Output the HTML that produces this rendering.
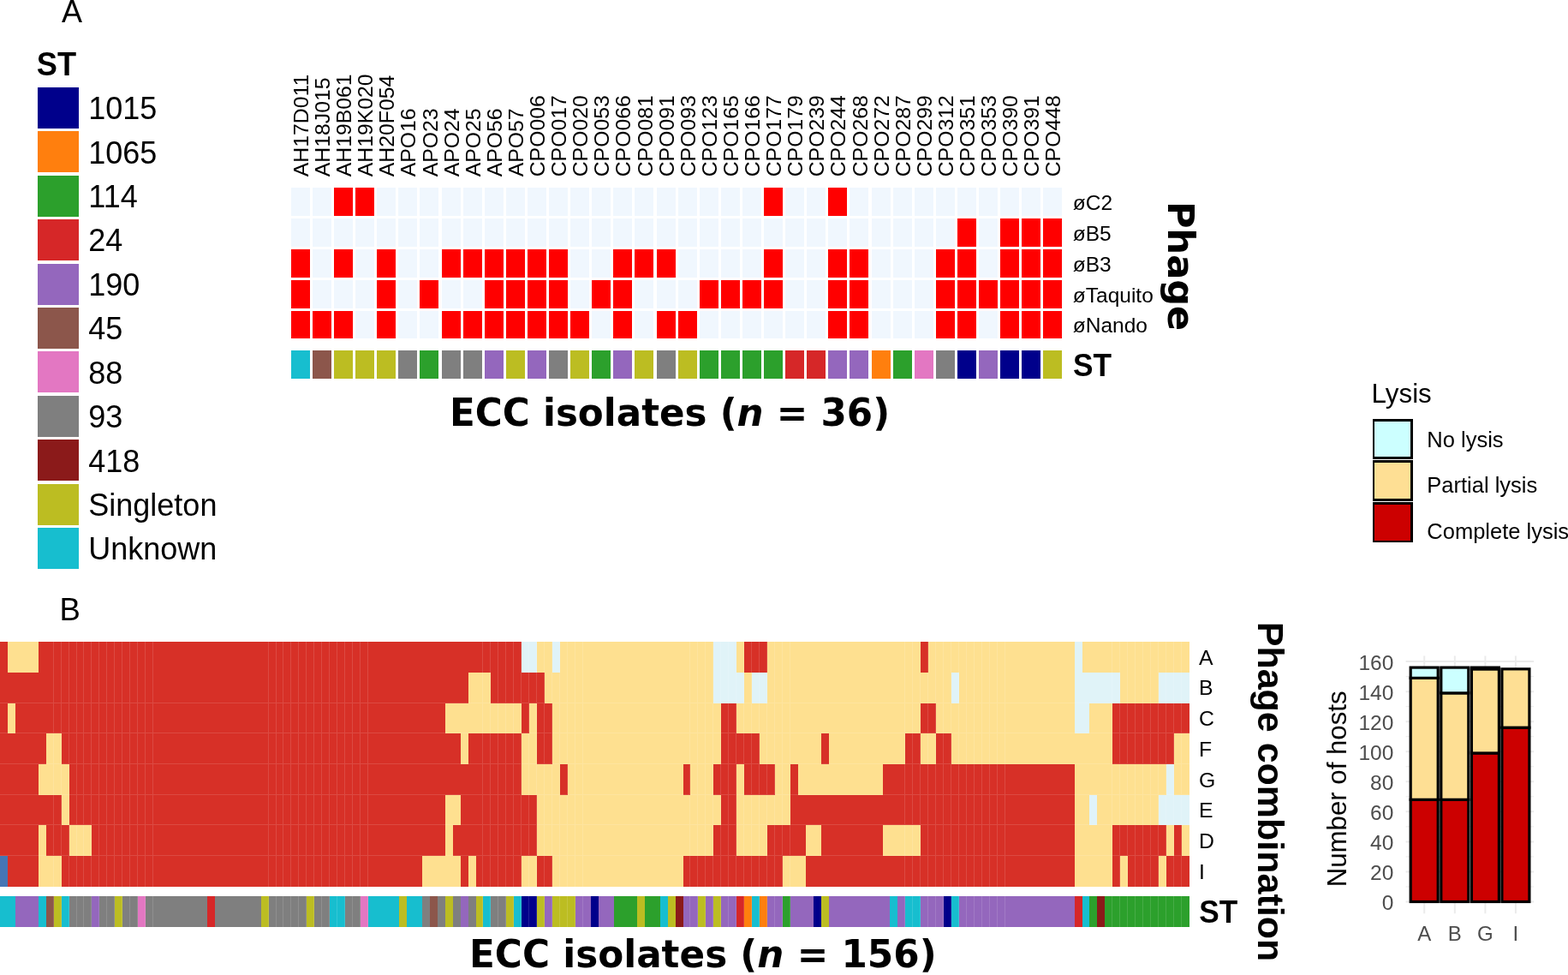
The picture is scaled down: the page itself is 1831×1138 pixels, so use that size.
<!DOCTYPE html>
<html><head><meta charset="utf-8"><title>Phage host range</title>
<style>
html,body{margin:0;padding:0;background:#fff;}
body{width:1831px;height:1138px;overflow:hidden;}
svg{display:block;}
.s{font-family:"Liberation Sans",Arial,Helvetica,sans-serif;}
.v{font-family:"DejaVu Sans",Verdana,sans-serif;font-weight:bold;}
</style></head><body>
<svg width="1831" height="1138" viewBox="0 0 1831 1138" shape-rendering="crispEdges">
<rect width="1831" height="1138" fill="#fff"/>
<text class="s" x="72" y="25.9" font-size="36">A</text>
<text class="s" x="69.5" y="723.6" font-size="36.5">B</text>
<text class="s" font-size="39.4" font-weight="bold" transform="translate(42.8,88) scale(0.92,1)">ST</text>
<rect x="43.70" y="101.80" width="48.40" height="48.10" fill="#00008B"/>
<text class="s" x="103.3" y="139.15" font-size="36">1015</text>
<rect x="43.70" y="153.23" width="48.40" height="48.10" fill="#FF7F0E"/>
<text class="s" x="103.3" y="190.58" font-size="36">1065</text>
<rect x="43.70" y="204.66" width="48.40" height="48.10" fill="#2CA02C"/>
<text class="s" x="103.3" y="242.01" font-size="36">114</text>
<rect x="43.70" y="256.09" width="48.40" height="48.10" fill="#D62728"/>
<text class="s" x="103.3" y="293.44" font-size="36">24</text>
<rect x="43.70" y="307.52" width="48.40" height="48.10" fill="#9467BD"/>
<text class="s" x="103.3" y="344.87" font-size="36">190</text>
<rect x="43.70" y="358.95" width="48.40" height="48.10" fill="#8C564B"/>
<text class="s" x="103.3" y="396.30" font-size="36">45</text>
<rect x="43.70" y="410.38" width="48.40" height="48.10" fill="#E377C2"/>
<text class="s" x="103.3" y="447.73" font-size="36">88</text>
<rect x="43.70" y="461.81" width="48.40" height="48.10" fill="#7F7F7F"/>
<text class="s" x="103.3" y="499.16" font-size="36">93</text>
<rect x="43.70" y="513.24" width="48.40" height="48.10" fill="#8B1A1A"/>
<text class="s" x="103.3" y="550.59" font-size="36">418</text>
<rect x="43.70" y="564.67" width="48.40" height="48.10" fill="#BCBD22"/>
<text class="s" x="103.3" y="602.02" font-size="36">Singleton</text>
<rect x="43.70" y="616.10" width="48.40" height="48.10" fill="#17BECF"/>
<text class="s" x="103.3" y="653.45" font-size="36">Unknown</text>
<g>
<rect x="339.80" y="219.10" width="22.00" height="32.50" fill="#F0F7FE"/><rect x="364.90" y="219.10" width="22.00" height="32.50" fill="#F0F7FE"/><rect x="390.00" y="219.10" width="22.00" height="32.50" fill="#FF0000"/><rect x="415.10" y="219.10" width="22.00" height="32.50" fill="#FF0000"/><rect x="440.20" y="219.10" width="22.00" height="32.50" fill="#F0F7FE"/><rect x="465.30" y="219.10" width="22.00" height="32.50" fill="#F0F7FE"/><rect x="490.40" y="219.10" width="22.00" height="32.50" fill="#F0F7FE"/><rect x="515.50" y="219.10" width="22.00" height="32.50" fill="#F0F7FE"/><rect x="540.60" y="219.10" width="22.00" height="32.50" fill="#F0F7FE"/><rect x="565.70" y="219.10" width="22.00" height="32.50" fill="#F0F7FE"/><rect x="590.80" y="219.10" width="22.00" height="32.50" fill="#F0F7FE"/><rect x="615.90" y="219.10" width="22.00" height="32.50" fill="#F0F7FE"/><rect x="641.00" y="219.10" width="22.00" height="32.50" fill="#F0F7FE"/><rect x="666.10" y="219.10" width="22.00" height="32.50" fill="#F0F7FE"/><rect x="691.20" y="219.10" width="22.00" height="32.50" fill="#F0F7FE"/><rect x="716.30" y="219.10" width="22.00" height="32.50" fill="#F0F7FE"/><rect x="741.40" y="219.10" width="22.00" height="32.50" fill="#F0F7FE"/><rect x="766.50" y="219.10" width="22.00" height="32.50" fill="#F0F7FE"/><rect x="791.60" y="219.10" width="22.00" height="32.50" fill="#F0F7FE"/><rect x="816.70" y="219.10" width="22.00" height="32.50" fill="#F0F7FE"/><rect x="841.80" y="219.10" width="22.00" height="32.50" fill="#F0F7FE"/><rect x="866.90" y="219.10" width="22.00" height="32.50" fill="#F0F7FE"/><rect x="892.00" y="219.10" width="22.00" height="32.50" fill="#FF0000"/><rect x="917.10" y="219.10" width="22.00" height="32.50" fill="#F0F7FE"/><rect x="942.20" y="219.10" width="22.00" height="32.50" fill="#F0F7FE"/><rect x="967.30" y="219.10" width="22.00" height="32.50" fill="#FF0000"/><rect x="992.40" y="219.10" width="22.00" height="32.50" fill="#F0F7FE"/><rect x="1017.50" y="219.10" width="22.00" height="32.50" fill="#F0F7FE"/><rect x="1042.60" y="219.10" width="22.00" height="32.50" fill="#F0F7FE"/><rect x="1067.70" y="219.10" width="22.00" height="32.50" fill="#F0F7FE"/><rect x="1092.80" y="219.10" width="22.00" height="32.50" fill="#F0F7FE"/><rect x="1117.90" y="219.10" width="22.00" height="32.50" fill="#F0F7FE"/><rect x="1143.00" y="219.10" width="22.00" height="32.50" fill="#F0F7FE"/><rect x="1168.10" y="219.10" width="22.00" height="32.50" fill="#F0F7FE"/><rect x="1193.20" y="219.10" width="22.00" height="32.50" fill="#F0F7FE"/><rect x="1218.30" y="219.10" width="22.00" height="32.50" fill="#F0F7FE"/>
<rect x="339.80" y="255.07" width="22.00" height="32.50" fill="#F0F7FE"/><rect x="364.90" y="255.07" width="22.00" height="32.50" fill="#F0F7FE"/><rect x="390.00" y="255.07" width="22.00" height="32.50" fill="#F0F7FE"/><rect x="415.10" y="255.07" width="22.00" height="32.50" fill="#F0F7FE"/><rect x="440.20" y="255.07" width="22.00" height="32.50" fill="#F0F7FE"/><rect x="465.30" y="255.07" width="22.00" height="32.50" fill="#F0F7FE"/><rect x="490.40" y="255.07" width="22.00" height="32.50" fill="#F0F7FE"/><rect x="515.50" y="255.07" width="22.00" height="32.50" fill="#F0F7FE"/><rect x="540.60" y="255.07" width="22.00" height="32.50" fill="#F0F7FE"/><rect x="565.70" y="255.07" width="22.00" height="32.50" fill="#F0F7FE"/><rect x="590.80" y="255.07" width="22.00" height="32.50" fill="#F0F7FE"/><rect x="615.90" y="255.07" width="22.00" height="32.50" fill="#F0F7FE"/><rect x="641.00" y="255.07" width="22.00" height="32.50" fill="#F0F7FE"/><rect x="666.10" y="255.07" width="22.00" height="32.50" fill="#F0F7FE"/><rect x="691.20" y="255.07" width="22.00" height="32.50" fill="#F0F7FE"/><rect x="716.30" y="255.07" width="22.00" height="32.50" fill="#F0F7FE"/><rect x="741.40" y="255.07" width="22.00" height="32.50" fill="#F0F7FE"/><rect x="766.50" y="255.07" width="22.00" height="32.50" fill="#F0F7FE"/><rect x="791.60" y="255.07" width="22.00" height="32.50" fill="#F0F7FE"/><rect x="816.70" y="255.07" width="22.00" height="32.50" fill="#F0F7FE"/><rect x="841.80" y="255.07" width="22.00" height="32.50" fill="#F0F7FE"/><rect x="866.90" y="255.07" width="22.00" height="32.50" fill="#F0F7FE"/><rect x="892.00" y="255.07" width="22.00" height="32.50" fill="#F0F7FE"/><rect x="917.10" y="255.07" width="22.00" height="32.50" fill="#F0F7FE"/><rect x="942.20" y="255.07" width="22.00" height="32.50" fill="#F0F7FE"/><rect x="967.30" y="255.07" width="22.00" height="32.50" fill="#F0F7FE"/><rect x="992.40" y="255.07" width="22.00" height="32.50" fill="#F0F7FE"/><rect x="1017.50" y="255.07" width="22.00" height="32.50" fill="#F0F7FE"/><rect x="1042.60" y="255.07" width="22.00" height="32.50" fill="#F0F7FE"/><rect x="1067.70" y="255.07" width="22.00" height="32.50" fill="#F0F7FE"/><rect x="1092.80" y="255.07" width="22.00" height="32.50" fill="#F0F7FE"/><rect x="1117.90" y="255.07" width="22.00" height="32.50" fill="#FF0000"/><rect x="1143.00" y="255.07" width="22.00" height="32.50" fill="#F0F7FE"/><rect x="1168.10" y="255.07" width="22.00" height="32.50" fill="#FF0000"/><rect x="1193.20" y="255.07" width="22.00" height="32.50" fill="#FF0000"/><rect x="1218.30" y="255.07" width="22.00" height="32.50" fill="#FF0000"/>
<rect x="339.80" y="291.04" width="22.00" height="32.50" fill="#FF0000"/><rect x="364.90" y="291.04" width="22.00" height="32.50" fill="#F0F7FE"/><rect x="390.00" y="291.04" width="22.00" height="32.50" fill="#FF0000"/><rect x="415.10" y="291.04" width="22.00" height="32.50" fill="#F0F7FE"/><rect x="440.20" y="291.04" width="22.00" height="32.50" fill="#FF0000"/><rect x="465.30" y="291.04" width="22.00" height="32.50" fill="#F0F7FE"/><rect x="490.40" y="291.04" width="22.00" height="32.50" fill="#F0F7FE"/><rect x="515.50" y="291.04" width="22.00" height="32.50" fill="#FF0000"/><rect x="540.60" y="291.04" width="22.00" height="32.50" fill="#FF0000"/><rect x="565.70" y="291.04" width="22.00" height="32.50" fill="#FF0000"/><rect x="590.80" y="291.04" width="22.00" height="32.50" fill="#FF0000"/><rect x="615.90" y="291.04" width="22.00" height="32.50" fill="#FF0000"/><rect x="641.00" y="291.04" width="22.00" height="32.50" fill="#FF0000"/><rect x="666.10" y="291.04" width="22.00" height="32.50" fill="#F0F7FE"/><rect x="691.20" y="291.04" width="22.00" height="32.50" fill="#F0F7FE"/><rect x="716.30" y="291.04" width="22.00" height="32.50" fill="#FF0000"/><rect x="741.40" y="291.04" width="22.00" height="32.50" fill="#FF0000"/><rect x="766.50" y="291.04" width="22.00" height="32.50" fill="#FF0000"/><rect x="791.60" y="291.04" width="22.00" height="32.50" fill="#F0F7FE"/><rect x="816.70" y="291.04" width="22.00" height="32.50" fill="#F0F7FE"/><rect x="841.80" y="291.04" width="22.00" height="32.50" fill="#F0F7FE"/><rect x="866.90" y="291.04" width="22.00" height="32.50" fill="#F0F7FE"/><rect x="892.00" y="291.04" width="22.00" height="32.50" fill="#FF0000"/><rect x="917.10" y="291.04" width="22.00" height="32.50" fill="#F0F7FE"/><rect x="942.20" y="291.04" width="22.00" height="32.50" fill="#F0F7FE"/><rect x="967.30" y="291.04" width="22.00" height="32.50" fill="#FF0000"/><rect x="992.40" y="291.04" width="22.00" height="32.50" fill="#FF0000"/><rect x="1017.50" y="291.04" width="22.00" height="32.50" fill="#F0F7FE"/><rect x="1042.60" y="291.04" width="22.00" height="32.50" fill="#F0F7FE"/><rect x="1067.70" y="291.04" width="22.00" height="32.50" fill="#F0F7FE"/><rect x="1092.80" y="291.04" width="22.00" height="32.50" fill="#FF0000"/><rect x="1117.90" y="291.04" width="22.00" height="32.50" fill="#FF0000"/><rect x="1143.00" y="291.04" width="22.00" height="32.50" fill="#F0F7FE"/><rect x="1168.10" y="291.04" width="22.00" height="32.50" fill="#FF0000"/><rect x="1193.20" y="291.04" width="22.00" height="32.50" fill="#FF0000"/><rect x="1218.30" y="291.04" width="22.00" height="32.50" fill="#FF0000"/>
<rect x="339.80" y="327.01" width="22.00" height="32.50" fill="#FF0000"/><rect x="364.90" y="327.01" width="22.00" height="32.50" fill="#F0F7FE"/><rect x="390.00" y="327.01" width="22.00" height="32.50" fill="#F0F7FE"/><rect x="415.10" y="327.01" width="22.00" height="32.50" fill="#F0F7FE"/><rect x="440.20" y="327.01" width="22.00" height="32.50" fill="#FF0000"/><rect x="465.30" y="327.01" width="22.00" height="32.50" fill="#F0F7FE"/><rect x="490.40" y="327.01" width="22.00" height="32.50" fill="#FF0000"/><rect x="515.50" y="327.01" width="22.00" height="32.50" fill="#F0F7FE"/><rect x="540.60" y="327.01" width="22.00" height="32.50" fill="#F0F7FE"/><rect x="565.70" y="327.01" width="22.00" height="32.50" fill="#FF0000"/><rect x="590.80" y="327.01" width="22.00" height="32.50" fill="#FF0000"/><rect x="615.90" y="327.01" width="22.00" height="32.50" fill="#FF0000"/><rect x="641.00" y="327.01" width="22.00" height="32.50" fill="#FF0000"/><rect x="666.10" y="327.01" width="22.00" height="32.50" fill="#F0F7FE"/><rect x="691.20" y="327.01" width="22.00" height="32.50" fill="#FF0000"/><rect x="716.30" y="327.01" width="22.00" height="32.50" fill="#FF0000"/><rect x="741.40" y="327.01" width="22.00" height="32.50" fill="#F0F7FE"/><rect x="766.50" y="327.01" width="22.00" height="32.50" fill="#F0F7FE"/><rect x="791.60" y="327.01" width="22.00" height="32.50" fill="#F0F7FE"/><rect x="816.70" y="327.01" width="22.00" height="32.50" fill="#FF0000"/><rect x="841.80" y="327.01" width="22.00" height="32.50" fill="#FF0000"/><rect x="866.90" y="327.01" width="22.00" height="32.50" fill="#FF0000"/><rect x="892.00" y="327.01" width="22.00" height="32.50" fill="#FF0000"/><rect x="917.10" y="327.01" width="22.00" height="32.50" fill="#F0F7FE"/><rect x="942.20" y="327.01" width="22.00" height="32.50" fill="#F0F7FE"/><rect x="967.30" y="327.01" width="22.00" height="32.50" fill="#FF0000"/><rect x="992.40" y="327.01" width="22.00" height="32.50" fill="#FF0000"/><rect x="1017.50" y="327.01" width="22.00" height="32.50" fill="#F0F7FE"/><rect x="1042.60" y="327.01" width="22.00" height="32.50" fill="#F0F7FE"/><rect x="1067.70" y="327.01" width="22.00" height="32.50" fill="#F0F7FE"/><rect x="1092.80" y="327.01" width="22.00" height="32.50" fill="#FF0000"/><rect x="1117.90" y="327.01" width="22.00" height="32.50" fill="#FF0000"/><rect x="1143.00" y="327.01" width="22.00" height="32.50" fill="#FF0000"/><rect x="1168.10" y="327.01" width="22.00" height="32.50" fill="#FF0000"/><rect x="1193.20" y="327.01" width="22.00" height="32.50" fill="#FF0000"/><rect x="1218.30" y="327.01" width="22.00" height="32.50" fill="#FF0000"/>
<rect x="339.80" y="362.98" width="22.00" height="32.50" fill="#FF0000"/><rect x="364.90" y="362.98" width="22.00" height="32.50" fill="#FF0000"/><rect x="390.00" y="362.98" width="22.00" height="32.50" fill="#FF0000"/><rect x="415.10" y="362.98" width="22.00" height="32.50" fill="#F0F7FE"/><rect x="440.20" y="362.98" width="22.00" height="32.50" fill="#FF0000"/><rect x="465.30" y="362.98" width="22.00" height="32.50" fill="#F0F7FE"/><rect x="490.40" y="362.98" width="22.00" height="32.50" fill="#F0F7FE"/><rect x="515.50" y="362.98" width="22.00" height="32.50" fill="#FF0000"/><rect x="540.60" y="362.98" width="22.00" height="32.50" fill="#FF0000"/><rect x="565.70" y="362.98" width="22.00" height="32.50" fill="#FF0000"/><rect x="590.80" y="362.98" width="22.00" height="32.50" fill="#FF0000"/><rect x="615.90" y="362.98" width="22.00" height="32.50" fill="#FF0000"/><rect x="641.00" y="362.98" width="22.00" height="32.50" fill="#FF0000"/><rect x="666.10" y="362.98" width="22.00" height="32.50" fill="#FF0000"/><rect x="691.20" y="362.98" width="22.00" height="32.50" fill="#F0F7FE"/><rect x="716.30" y="362.98" width="22.00" height="32.50" fill="#FF0000"/><rect x="741.40" y="362.98" width="22.00" height="32.50" fill="#F0F7FE"/><rect x="766.50" y="362.98" width="22.00" height="32.50" fill="#FF0000"/><rect x="791.60" y="362.98" width="22.00" height="32.50" fill="#FF0000"/><rect x="816.70" y="362.98" width="22.00" height="32.50" fill="#F0F7FE"/><rect x="841.80" y="362.98" width="22.00" height="32.50" fill="#F0F7FE"/><rect x="866.90" y="362.98" width="22.00" height="32.50" fill="#F0F7FE"/><rect x="892.00" y="362.98" width="22.00" height="32.50" fill="#F0F7FE"/><rect x="917.10" y="362.98" width="22.00" height="32.50" fill="#F0F7FE"/><rect x="942.20" y="362.98" width="22.00" height="32.50" fill="#F0F7FE"/><rect x="967.30" y="362.98" width="22.00" height="32.50" fill="#FF0000"/><rect x="992.40" y="362.98" width="22.00" height="32.50" fill="#FF0000"/><rect x="1017.50" y="362.98" width="22.00" height="32.50" fill="#F0F7FE"/><rect x="1042.60" y="362.98" width="22.00" height="32.50" fill="#F0F7FE"/><rect x="1067.70" y="362.98" width="22.00" height="32.50" fill="#F0F7FE"/><rect x="1092.80" y="362.98" width="22.00" height="32.50" fill="#FF0000"/><rect x="1117.90" y="362.98" width="22.00" height="32.50" fill="#FF0000"/><rect x="1143.00" y="362.98" width="22.00" height="32.50" fill="#F0F7FE"/><rect x="1168.10" y="362.98" width="22.00" height="32.50" fill="#FF0000"/><rect x="1193.20" y="362.98" width="22.00" height="32.50" fill="#FF0000"/><rect x="1218.30" y="362.98" width="22.00" height="32.50" fill="#FF0000"/>
<rect x="339.80" y="409.3" width="22.00" height="32.5" fill="#17BECF"/><rect x="364.90" y="409.3" width="22.00" height="32.5" fill="#8C564B"/><rect x="390.00" y="409.3" width="22.00" height="32.5" fill="#BCBD22"/><rect x="415.10" y="409.3" width="22.00" height="32.5" fill="#BCBD22"/><rect x="440.20" y="409.3" width="22.00" height="32.5" fill="#BCBD22"/><rect x="465.30" y="409.3" width="22.00" height="32.5" fill="#7F7F7F"/><rect x="490.40" y="409.3" width="22.00" height="32.5" fill="#2CA02C"/><rect x="515.50" y="409.3" width="22.00" height="32.5" fill="#7F7F7F"/><rect x="540.60" y="409.3" width="22.00" height="32.5" fill="#7F7F7F"/><rect x="565.70" y="409.3" width="22.00" height="32.5" fill="#9467BD"/><rect x="590.80" y="409.3" width="22.00" height="32.5" fill="#BCBD22"/><rect x="615.90" y="409.3" width="22.00" height="32.5" fill="#9467BD"/><rect x="641.00" y="409.3" width="22.00" height="32.5" fill="#7F7F7F"/><rect x="666.10" y="409.3" width="22.00" height="32.5" fill="#BCBD22"/><rect x="691.20" y="409.3" width="22.00" height="32.5" fill="#2CA02C"/><rect x="716.30" y="409.3" width="22.00" height="32.5" fill="#9467BD"/><rect x="741.40" y="409.3" width="22.00" height="32.5" fill="#BCBD22"/><rect x="766.50" y="409.3" width="22.00" height="32.5" fill="#7F7F7F"/><rect x="791.60" y="409.3" width="22.00" height="32.5" fill="#BCBD22"/><rect x="816.70" y="409.3" width="22.00" height="32.5" fill="#2CA02C"/><rect x="841.80" y="409.3" width="22.00" height="32.5" fill="#2CA02C"/><rect x="866.90" y="409.3" width="22.00" height="32.5" fill="#2CA02C"/><rect x="892.00" y="409.3" width="22.00" height="32.5" fill="#2CA02C"/><rect x="917.10" y="409.3" width="22.00" height="32.5" fill="#D62728"/><rect x="942.20" y="409.3" width="22.00" height="32.5" fill="#D62728"/><rect x="967.30" y="409.3" width="22.00" height="32.5" fill="#9467BD"/><rect x="992.40" y="409.3" width="22.00" height="32.5" fill="#9467BD"/><rect x="1017.50" y="409.3" width="22.00" height="32.5" fill="#FF7F0E"/><rect x="1042.60" y="409.3" width="22.00" height="32.5" fill="#2CA02C"/><rect x="1067.70" y="409.3" width="22.00" height="32.5" fill="#E377C2"/><rect x="1092.80" y="409.3" width="22.00" height="32.5" fill="#7F7F7F"/><rect x="1117.90" y="409.3" width="22.00" height="32.5" fill="#00008B"/><rect x="1143.00" y="409.3" width="22.00" height="32.5" fill="#9467BD"/><rect x="1168.10" y="409.3" width="22.00" height="32.5" fill="#00008B"/><rect x="1193.20" y="409.3" width="22.00" height="32.5" fill="#00008B"/><rect x="1218.30" y="409.3" width="22.00" height="32.5" fill="#BCBD22"/>
</g>
<text class="s" font-size="24.8" transform="translate(359.90,206.3) rotate(-90)">AH17D011</text>
<text class="s" font-size="24.8" transform="translate(385.00,206.3) rotate(-90)">AH18J015</text>
<text class="s" font-size="24.8" transform="translate(410.10,206.3) rotate(-90)">AH19B061</text>
<text class="s" font-size="24.8" transform="translate(435.20,206.3) rotate(-90)">AH19K020</text>
<text class="s" font-size="24.8" transform="translate(460.30,206.3) rotate(-90)">AH20F054</text>
<text class="s" font-size="24.8" transform="translate(485.40,206.3) rotate(-90)">APO16</text>
<text class="s" font-size="24.8" transform="translate(510.50,206.3) rotate(-90)">APO23</text>
<text class="s" font-size="24.8" transform="translate(535.60,206.3) rotate(-90)">APO24</text>
<text class="s" font-size="24.8" transform="translate(560.70,206.3) rotate(-90)">APO25</text>
<text class="s" font-size="24.8" transform="translate(585.80,206.3) rotate(-90)">APO56</text>
<text class="s" font-size="24.8" transform="translate(610.90,206.3) rotate(-90)">APO57</text>
<text class="s" font-size="24.8" transform="translate(636.00,206.3) rotate(-90)">CPO006</text>
<text class="s" font-size="24.8" transform="translate(661.10,206.3) rotate(-90)">CPO017</text>
<text class="s" font-size="24.8" transform="translate(686.20,206.3) rotate(-90)">CPO020</text>
<text class="s" font-size="24.8" transform="translate(711.30,206.3) rotate(-90)">CPO053</text>
<text class="s" font-size="24.8" transform="translate(736.40,206.3) rotate(-90)">CPO066</text>
<text class="s" font-size="24.8" transform="translate(761.50,206.3) rotate(-90)">CPO081</text>
<text class="s" font-size="24.8" transform="translate(786.60,206.3) rotate(-90)">CPO091</text>
<text class="s" font-size="24.8" transform="translate(811.70,206.3) rotate(-90)">CPO093</text>
<text class="s" font-size="24.8" transform="translate(836.80,206.3) rotate(-90)">CPO123</text>
<text class="s" font-size="24.8" transform="translate(861.90,206.3) rotate(-90)">CPO165</text>
<text class="s" font-size="24.8" transform="translate(887.00,206.3) rotate(-90)">CPO166</text>
<text class="s" font-size="24.8" transform="translate(912.10,206.3) rotate(-90)">CPO177</text>
<text class="s" font-size="24.8" transform="translate(937.20,206.3) rotate(-90)">CPO179</text>
<text class="s" font-size="24.8" transform="translate(962.30,206.3) rotate(-90)">CPO239</text>
<text class="s" font-size="24.8" transform="translate(987.40,206.3) rotate(-90)">CPO244</text>
<text class="s" font-size="24.8" transform="translate(1012.50,206.3) rotate(-90)">CPO268</text>
<text class="s" font-size="24.8" transform="translate(1037.60,206.3) rotate(-90)">CPO272</text>
<text class="s" font-size="24.8" transform="translate(1062.70,206.3) rotate(-90)">CPO287</text>
<text class="s" font-size="24.8" transform="translate(1087.80,206.3) rotate(-90)">CPO299</text>
<text class="s" font-size="24.8" transform="translate(1112.90,206.3) rotate(-90)">CPO312</text>
<text class="s" font-size="24.8" transform="translate(1138.00,206.3) rotate(-90)">CPO351</text>
<text class="s" font-size="24.8" transform="translate(1163.10,206.3) rotate(-90)">CPO353</text>
<text class="s" font-size="24.8" transform="translate(1188.20,206.3) rotate(-90)">CPO390</text>
<text class="s" font-size="24.8" transform="translate(1213.30,206.3) rotate(-90)">CPO391</text>
<text class="s" font-size="24.8" transform="translate(1238.40,206.3) rotate(-90)">CPO448</text>
<text class="s" x="1252.8" y="244.60" font-size="24.5">øC2</text>
<text class="s" x="1252.8" y="280.57" font-size="24.5">øB5</text>
<text class="s" x="1252.8" y="316.54" font-size="24.5">øB3</text>
<text class="s" x="1252.8" y="352.51" font-size="24.5">øTaquito</text>
<text class="s" x="1252.8" y="388.48" font-size="24.5">øNando</text>
<text class="s" font-size="37.1" font-weight="bold" transform="translate(1253,438.9) scale(0.95,1)">ST</text>
<text class="v" font-size="43" transform="translate(1363.8,235) rotate(90)">Phage</text>
<text class="v" x="525" y="497.2" font-size="43.6">ECC isolates (<tspan font-style="italic">n</tspan> = 36)</text>
<text class="s" x="1601.6" y="469.6" font-size="31.3">Lysis</text>
<rect x="1604" y="490.20" width="44.6" height="44.6" fill="#CCFFFF" stroke="#000" stroke-width="2.8"/>
<text class="s" x="1666.3" y="521.80" font-size="25.5">No lysis</text>
<rect x="1604" y="538.80" width="44.6" height="44.6" fill="#FEDF94" stroke="#000" stroke-width="2.8"/>
<text class="s" x="1666.3" y="575.15" font-size="25.5">Partial lysis</text>
<rect x="1604" y="587.40" width="44.6" height="44.6" fill="#CC0000" stroke="#000" stroke-width="2.8"/>
<text class="s" x="1666.3" y="628.50" font-size="25.5">Complete lysis</text>
<g>
<rect x="0" y="749" width="9" height="36" fill="#D73027"/><rect x="9" y="749" width="36" height="36" fill="#FEE090"/><rect x="45" y="749" width="564" height="36" fill="#D73027"/><rect x="609" y="749" width="18" height="36" fill="#E0F3F8"/><rect x="627" y="749" width="18" height="36" fill="#FEE090"/><rect x="645" y="749" width="9" height="36" fill="#E0F3F8"/><rect x="654" y="749" width="179" height="36" fill="#FEE090"/><rect x="833" y="749" width="27" height="36" fill="#E0F3F8"/><rect x="860" y="749" width="9" height="36" fill="#FEE090"/><rect x="869" y="749" width="27" height="36" fill="#D73027"/><rect x="896" y="749" width="179" height="36" fill="#FEE090"/><rect x="1075" y="749" width="9" height="36" fill="#D73027"/><rect x="1084" y="749" width="171" height="36" fill="#FEE090"/><rect x="1255" y="749" width="9" height="36" fill="#E0F3F8"/><rect x="1264" y="749" width="125" height="36" fill="#FEE090"/>
<rect x="0" y="785" width="547" height="36" fill="#D73027"/><rect x="547" y="785" width="26" height="36" fill="#FEE090"/><rect x="573" y="785" width="63" height="36" fill="#D73027"/><rect x="636" y="785" width="197" height="36" fill="#FEE090"/><rect x="833" y="785" width="36" height="36" fill="#E0F3F8"/><rect x="869" y="785" width="9" height="36" fill="#FEE090"/><rect x="878" y="785" width="18" height="36" fill="#E0F3F8"/><rect x="896" y="785" width="215" height="36" fill="#FEE090"/><rect x="1111" y="785" width="9" height="36" fill="#E0F3F8"/><rect x="1120" y="785" width="135" height="36" fill="#FEE090"/><rect x="1255" y="785" width="53" height="36" fill="#E0F3F8"/><rect x="1308" y="785" width="45" height="36" fill="#FEE090"/><rect x="1353" y="785" width="36" height="36" fill="#E0F3F8"/>
<rect x="0" y="821" width="9" height="35" fill="#D73027"/><rect x="9" y="821" width="9" height="35" fill="#FEE090"/><rect x="18" y="821" width="502" height="35" fill="#D73027"/><rect x="520" y="821" width="89" height="35" fill="#FEE090"/><rect x="609" y="821" width="9" height="35" fill="#D73027"/><rect x="618" y="821" width="9" height="35" fill="#FEE090"/><rect x="627" y="821" width="18" height="35" fill="#D73027"/><rect x="645" y="821" width="197" height="35" fill="#FEE090"/><rect x="842" y="821" width="18" height="35" fill="#D73027"/><rect x="860" y="821" width="215" height="35" fill="#FEE090"/><rect x="1075" y="821" width="18" height="35" fill="#D73027"/><rect x="1093" y="821" width="162" height="35" fill="#FEE090"/><rect x="1255" y="821" width="17" height="35" fill="#E0F3F8"/><rect x="1272" y="821" width="27" height="35" fill="#FEE090"/><rect x="1299" y="821" width="90" height="35" fill="#D73027"/>
<rect x="0" y="856" width="54" height="36" fill="#D73027"/><rect x="54" y="856" width="18" height="36" fill="#FEE090"/><rect x="72" y="856" width="466" height="36" fill="#D73027"/><rect x="538" y="856" width="9" height="36" fill="#FEE090"/><rect x="547" y="856" width="62" height="36" fill="#D73027"/><rect x="609" y="856" width="18" height="36" fill="#FEE090"/><rect x="627" y="856" width="18" height="36" fill="#D73027"/><rect x="645" y="856" width="197" height="36" fill="#FEE090"/><rect x="842" y="856" width="45" height="36" fill="#D73027"/><rect x="887" y="856" width="72" height="36" fill="#FEE090"/><rect x="959" y="856" width="9" height="36" fill="#D73027"/><rect x="968" y="856" width="89" height="36" fill="#FEE090"/><rect x="1057" y="856" width="18" height="36" fill="#D73027"/><rect x="1075" y="856" width="18" height="36" fill="#FEE090"/><rect x="1093" y="856" width="18" height="36" fill="#D73027"/><rect x="1111" y="856" width="188" height="36" fill="#FEE090"/><rect x="1299" y="856" width="72" height="36" fill="#D73027"/><rect x="1371" y="856" width="18" height="36" fill="#FEE090"/>
<rect x="0" y="892" width="45" height="36" fill="#D73027"/><rect x="45" y="892" width="36" height="36" fill="#FEE090"/><rect x="81" y="892" width="528" height="36" fill="#D73027"/><rect x="609" y="892" width="45" height="36" fill="#FEE090"/><rect x="654" y="892" width="9" height="36" fill="#D73027"/><rect x="663" y="892" width="135" height="36" fill="#FEE090"/><rect x="798" y="892" width="8" height="36" fill="#D73027"/><rect x="806" y="892" width="27" height="36" fill="#FEE090"/><rect x="833" y="892" width="27" height="36" fill="#D73027"/><rect x="860" y="892" width="9" height="36" fill="#FEE090"/><rect x="869" y="892" width="36" height="36" fill="#D73027"/><rect x="905" y="892" width="18" height="36" fill="#FEE090"/><rect x="923" y="892" width="9" height="36" fill="#D73027"/><rect x="932" y="892" width="99" height="36" fill="#FEE090"/><rect x="1031" y="892" width="224" height="36" fill="#D73027"/><rect x="1255" y="892" width="107" height="36" fill="#FEE090"/><rect x="1362" y="892" width="9" height="36" fill="#E0F3F8"/><rect x="1371" y="892" width="18" height="36" fill="#FEE090"/>
<rect x="0" y="928" width="72" height="35" fill="#D73027"/><rect x="72" y="928" width="9" height="35" fill="#FEE090"/><rect x="81" y="928" width="439" height="35" fill="#D73027"/><rect x="520" y="928" width="18" height="35" fill="#FEE090"/><rect x="538" y="928" width="89" height="35" fill="#D73027"/><rect x="627" y="928" width="215" height="35" fill="#FEE090"/><rect x="842" y="928" width="18" height="35" fill="#D73027"/><rect x="860" y="928" width="63" height="35" fill="#FEE090"/><rect x="923" y="928" width="332" height="35" fill="#D73027"/><rect x="1255" y="928" width="17" height="35" fill="#FEE090"/><rect x="1272" y="928" width="9" height="35" fill="#E0F3F8"/><rect x="1281" y="928" width="72" height="35" fill="#FEE090"/><rect x="1353" y="928" width="36" height="35" fill="#E0F3F8"/>
<rect x="0" y="963" width="45" height="36" fill="#D73027"/><rect x="45" y="963" width="9" height="36" fill="#FEE090"/><rect x="54" y="963" width="27" height="36" fill="#D73027"/><rect x="81" y="963" width="26" height="36" fill="#FEE090"/><rect x="107" y="963" width="413" height="36" fill="#D73027"/><rect x="520" y="963" width="9" height="36" fill="#FEE090"/><rect x="529" y="963" width="98" height="36" fill="#D73027"/><rect x="627" y="963" width="206" height="36" fill="#FEE090"/><rect x="833" y="963" width="27" height="36" fill="#D73027"/><rect x="860" y="963" width="36" height="36" fill="#FEE090"/><rect x="896" y="963" width="45" height="36" fill="#D73027"/><rect x="941" y="963" width="18" height="36" fill="#FEE090"/><rect x="959" y="963" width="72" height="36" fill="#D73027"/><rect x="1031" y="963" width="44" height="36" fill="#FEE090"/><rect x="1075" y="963" width="180" height="36" fill="#D73027"/><rect x="1255" y="963" width="44" height="36" fill="#FEE090"/><rect x="1299" y="963" width="63" height="36" fill="#D73027"/><rect x="1362" y="963" width="9" height="36" fill="#FEE090"/><rect x="1371" y="963" width="9" height="36" fill="#D73027"/><rect x="1380" y="963" width="9" height="36" fill="#FEE090"/>
<rect x="0" y="999" width="9" height="36" fill="#4575B4"/><rect x="9" y="999" width="36" height="36" fill="#D73027"/><rect x="45" y="999" width="27" height="36" fill="#FEE090"/><rect x="72" y="999" width="421" height="36" fill="#D73027"/><rect x="493" y="999" width="45" height="36" fill="#FEE090"/><rect x="538" y="999" width="9" height="36" fill="#D73027"/><rect x="547" y="999" width="9" height="36" fill="#FEE090"/><rect x="556" y="999" width="53" height="36" fill="#D73027"/><rect x="609" y="999" width="18" height="36" fill="#FEE090"/><rect x="627" y="999" width="18" height="36" fill="#D73027"/><rect x="645" y="999" width="153" height="36" fill="#FEE090"/><rect x="798" y="999" width="116" height="36" fill="#D73027"/><rect x="914" y="999" width="27" height="36" fill="#FEE090"/><rect x="941" y="999" width="314" height="36" fill="#D73027"/><rect x="1255" y="999" width="44" height="36" fill="#FEE090"/><rect x="1299" y="999" width="9" height="36" fill="#D73027"/><rect x="1308" y="999" width="9" height="36" fill="#FEE090"/><rect x="1317" y="999" width="36" height="36" fill="#D73027"/><rect x="1353" y="999" width="9" height="36" fill="#FEE090"/><rect x="1362" y="999" width="27" height="36" fill="#D73027"/>
<rect x="0" y="1046" width="18" height="36" fill="#17BECF"/><rect x="18" y="1046" width="27" height="36" fill="#9467BD"/><rect x="45" y="1046" width="9" height="36" fill="#17BECF"/><rect x="54" y="1046" width="9" height="36" fill="#8C564B"/><rect x="63" y="1046" width="9" height="36" fill="#BCBD22"/><rect x="72" y="1046" width="9" height="36" fill="#17BECF"/><rect x="81" y="1046" width="26" height="36" fill="#7F7F7F"/><rect x="107" y="1046" width="9" height="36" fill="#9467BD"/><rect x="116" y="1046" width="18" height="36" fill="#7F7F7F"/><rect x="134" y="1046" width="9" height="36" fill="#BCBD22"/><rect x="143" y="1046" width="18" height="36" fill="#7F7F7F"/><rect x="161" y="1046" width="9" height="36" fill="#E377C2"/><rect x="170" y="1046" width="72" height="36" fill="#7F7F7F"/><rect x="242" y="1046" width="9" height="36" fill="#D62728"/><rect x="251" y="1046" width="54" height="36" fill="#7F7F7F"/><rect x="305" y="1046" width="9" height="36" fill="#BCBD22"/><rect x="314" y="1046" width="44" height="36" fill="#7F7F7F"/><rect x="358" y="1046" width="9" height="36" fill="#BCBD22"/><rect x="367" y="1046" width="18" height="36" fill="#7F7F7F"/><rect x="385" y="1046" width="18" height="36" fill="#17BECF"/><rect x="403" y="1046" width="18" height="36" fill="#7F7F7F"/><rect x="421" y="1046" width="9" height="36" fill="#E377C2"/><rect x="430" y="1046" width="36" height="36" fill="#17BECF"/><rect x="466" y="1046" width="9" height="36" fill="#BCBD22"/><rect x="475" y="1046" width="18" height="36" fill="#17BECF"/><rect x="493" y="1046" width="9" height="36" fill="#7F7F7F"/><rect x="502" y="1046" width="9" height="36" fill="#8C564B"/><rect x="511" y="1046" width="9" height="36" fill="#7F7F7F"/><rect x="520" y="1046" width="9" height="36" fill="#BCBD22"/><rect x="529" y="1046" width="9" height="36" fill="#7F7F7F"/><rect x="538" y="1046" width="9" height="36" fill="#9467BD"/><rect x="547" y="1046" width="9" height="36" fill="#7F7F7F"/><rect x="556" y="1046" width="8" height="36" fill="#BCBD22"/><rect x="564" y="1046" width="9" height="36" fill="#17BECF"/><rect x="573" y="1046" width="18" height="36" fill="#7F7F7F"/><rect x="591" y="1046" width="9" height="36" fill="#BCBD22"/><rect x="600" y="1046" width="9" height="36" fill="#17BECF"/><rect x="609" y="1046" width="18" height="36" fill="#00008B"/><rect x="627" y="1046" width="9" height="36" fill="#BCBD22"/><rect x="636" y="1046" width="9" height="36" fill="#9467BD"/><rect x="645" y="1046" width="27" height="36" fill="#BCBD22"/><rect x="672" y="1046" width="18" height="36" fill="#9467BD"/><rect x="690" y="1046" width="9" height="36" fill="#00008B"/><rect x="699" y="1046" width="18" height="36" fill="#9467BD"/><rect x="717" y="1046" width="27" height="36" fill="#2CA02C"/><rect x="744" y="1046" width="9" height="36" fill="#BCBD22"/><rect x="753" y="1046" width="18" height="36" fill="#2CA02C"/><rect x="771" y="1046" width="9" height="36" fill="#17BECF"/><rect x="780" y="1046" width="9" height="36" fill="#BCBD22"/><rect x="789" y="1046" width="9" height="36" fill="#8B1A1A"/><rect x="798" y="1046" width="17" height="36" fill="#9467BD"/><rect x="815" y="1046" width="9" height="36" fill="#BCBD22"/><rect x="824" y="1046" width="9" height="36" fill="#9467BD"/><rect x="833" y="1046" width="9" height="36" fill="#BCBD22"/><rect x="842" y="1046" width="18" height="36" fill="#9467BD"/><rect x="860" y="1046" width="9" height="36" fill="#D62728"/><rect x="869" y="1046" width="9" height="36" fill="#FF7F0E"/><rect x="878" y="1046" width="9" height="36" fill="#17BECF"/><rect x="887" y="1046" width="9" height="36" fill="#FF7F0E"/><rect x="896" y="1046" width="18" height="36" fill="#9467BD"/><rect x="914" y="1046" width="9" height="36" fill="#2CA02C"/><rect x="923" y="1046" width="27" height="36" fill="#9467BD"/><rect x="950" y="1046" width="9" height="36" fill="#00008B"/><rect x="959" y="1046" width="9" height="36" fill="#BCBD22"/><rect x="968" y="1046" width="71" height="36" fill="#9467BD"/><rect x="1039" y="1046" width="9" height="36" fill="#17BECF"/><rect x="1048" y="1046" width="9" height="36" fill="#9467BD"/><rect x="1057" y="1046" width="18" height="36" fill="#17BECF"/><rect x="1075" y="1046" width="27" height="36" fill="#9467BD"/><rect x="1102" y="1046" width="9" height="36" fill="#00008B"/><rect x="1111" y="1046" width="9" height="36" fill="#17BECF"/><rect x="1120" y="1046" width="135" height="36" fill="#9467BD"/><rect x="1255" y="1046" width="9" height="36" fill="#D62728"/><rect x="1264" y="1046" width="8" height="36" fill="#17BECF"/><rect x="1272" y="1046" width="9" height="36" fill="#2CA02C"/><rect x="1281" y="1046" width="9" height="36" fill="#8B1A1A"/><rect x="1290" y="1046" width="99" height="36" fill="#2CA02C"/>
<path d="M63 749V1035M63 1046V1082M72 749V1035M72 1046V1082M81 749V1035M81 1046V1082M90 749V1035M90 1046V1082M98 749V1035M98 1046V1082M107 749V1035M107 1046V1082M116 749V1035M116 1046V1082M125 749V1035M125 1046V1082M134 749V1035M134 1046V1082M143 749V1035M143 1046V1082M152 749V1035M152 1046V1082M161 749V1035M161 1046V1082M170 749V1035M170 1046V1082M179 749V1035M179 1046V1082M314 749V1035M314 1046V1082M323 749V1035M323 1046V1082M331 749V1035M331 1046V1082M340 749V1035M340 1046V1082M349 749V1035M349 1046V1082M358 749V1035M358 1046V1082M367 749V1035M367 1046V1082M376 749V1035M376 1046V1082M385 749V1035M385 1046V1082M394 749V1035M394 1046V1082M403 749V1035M403 1046V1082M412 749V1035M412 1046V1082M421 749V1035M421 1046V1082M430 749V1035M430 1046V1082M564 749V1035M564 1046V1082M573 749V1035M573 1046V1082M582 749V1035M582 1046V1082M591 749V1035M591 1046V1082M600 749V1035M600 1046V1082M609 749V1035M609 1046V1082M618 749V1035M618 1046V1082M627 749V1035M627 1046V1082M636 749V1035M636 1046V1082M645 749V1035M645 1046V1082M654 749V1035M654 1046V1082M663 749V1035M663 1046V1082M672 749V1035M672 1046V1082M681 749V1035M681 1046V1082M806 749V1035M806 1046V1082M815 749V1035M815 1046V1082M824 749V1035M824 1046V1082M833 749V1035M833 1046V1082M842 749V1035M842 1046V1082M851 749V1035M851 1046V1082M860 749V1035M860 1046V1082M869 749V1035M869 1046V1082M878 749V1035M878 1046V1082M887 749V1035M887 1046V1082M896 749V1035M896 1046V1082M905 749V1035M905 1046V1082M914 749V1035M914 1046V1082M923 749V1035M923 1046V1082M1057 749V1035M1057 1046V1082M1066 749V1035M1066 1046V1082M1075 749V1035M1075 1046V1082M1084 749V1035M1084 1046V1082M1093 749V1035M1093 1046V1082M1102 749V1035M1102 1046V1082M1111 749V1035M1111 1046V1082M1120 749V1035M1120 1046V1082M1129 749V1035M1129 1046V1082M1138 749V1035M1138 1046V1082M1147 749V1035M1147 1046V1082M1156 749V1035M1156 1046V1082M1165 749V1035M1165 1046V1082M1174 749V1035M1174 1046V1082M1299 749V1035M1299 1046V1082M1308 749V1035M1308 1046V1082M1317 749V1035M1317 1046V1082M1326 749V1035M1326 1046V1082M1335 749V1035M1335 1046V1082M1344 749V1035M1344 1046V1082M1353 749V1035M1353 1046V1082M1362 749V1035M1362 1046V1082M1371 749V1035M1371 1046V1082M1380 749V1035M1380 1046V1082M0 821H1389M0 856H1389M0 892H1389M0 928H1389M0 963H1389M0 999H1389" stroke="rgba(255,255,255,0.13)" stroke-width="1" fill="none" transform="translate(-0.5,-0.5)"/>
</g>
<text class="s" x="1400" y="775.72" font-size="24.8">A</text>
<text class="s" x="1400" y="811.45" font-size="24.8">B</text>
<text class="s" x="1400" y="847.18" font-size="24.8">C</text>
<text class="s" x="1400" y="882.90" font-size="24.8">F</text>
<text class="s" x="1400" y="918.63" font-size="24.8">G</text>
<text class="s" x="1400" y="954.37" font-size="24.8">E</text>
<text class="s" x="1400" y="990.10" font-size="24.8">D</text>
<text class="s" x="1400" y="1025.83" font-size="24.8">I</text>
<text class="s" font-size="37.1" font-weight="bold" transform="translate(1400.2,1077.2) scale(0.95,1)">ST</text>
<text class="s" font-weight="bold" font-size="43" transform="translate(1469.3,725.7) rotate(90)">Phage combination</text>
<text class="v" x="548" y="1129" font-size="43.7">ECC isolates (<tspan font-style="italic">n</tspan> = 156)</text>
<g shape-rendering="auto">
<line x1="1641.6" x2="1791.1" y1="1034.97" y2="1034.97" stroke="#EBEBEB" stroke-width="1"/><line x1="1641.6" x2="1791.1" y1="999.92" y2="999.92" stroke="#EBEBEB" stroke-width="1"/><line x1="1641.6" x2="1791.1" y1="964.88" y2="964.88" stroke="#EBEBEB" stroke-width="1"/><line x1="1641.6" x2="1791.1" y1="929.83" y2="929.83" stroke="#EBEBEB" stroke-width="1"/><line x1="1641.6" x2="1791.1" y1="894.77" y2="894.77" stroke="#EBEBEB" stroke-width="1"/><line x1="1641.6" x2="1791.1" y1="859.73" y2="859.73" stroke="#EBEBEB" stroke-width="1"/><line x1="1641.6" x2="1791.1" y1="824.67" y2="824.67" stroke="#EBEBEB" stroke-width="1"/><line x1="1641.6" x2="1791.1" y1="789.62" y2="789.62" stroke="#EBEBEB" stroke-width="1"/><line x1="1641.6" x2="1791.1" y1="1052.50" y2="1052.50" stroke="#EBEBEB" stroke-width="2"/><line x1="1641.6" x2="1791.1" y1="1017.45" y2="1017.45" stroke="#EBEBEB" stroke-width="2"/><line x1="1641.6" x2="1791.1" y1="982.40" y2="982.40" stroke="#EBEBEB" stroke-width="2"/><line x1="1641.6" x2="1791.1" y1="947.35" y2="947.35" stroke="#EBEBEB" stroke-width="2"/><line x1="1641.6" x2="1791.1" y1="912.30" y2="912.30" stroke="#EBEBEB" stroke-width="2"/><line x1="1641.6" x2="1791.1" y1="877.25" y2="877.25" stroke="#EBEBEB" stroke-width="2"/><line x1="1641.6" x2="1791.1" y1="842.20" y2="842.20" stroke="#EBEBEB" stroke-width="2"/><line x1="1641.6" x2="1791.1" y1="807.15" y2="807.15" stroke="#EBEBEB" stroke-width="2"/><line x1="1641.6" x2="1791.1" y1="772.10" y2="772.10" stroke="#EBEBEB" stroke-width="2"/><line x1="1663.2" x2="1663.2" y1="765.40" y2="1066.20" stroke="#EBEBEB" stroke-width="2"/><line x1="1698.8" x2="1698.8" y1="765.40" y2="1066.20" stroke="#EBEBEB" stroke-width="2"/><line x1="1734.4" x2="1734.4" y1="765.40" y2="1066.20" stroke="#EBEBEB" stroke-width="2"/><line x1="1769.9" x2="1769.9" y1="765.40" y2="1066.20" stroke="#EBEBEB" stroke-width="2"/>
<rect x="1647.20" y="933.33" width="32.00" height="119.17" fill="#CC0000" stroke="#000" stroke-width="3.2"/><rect x="1647.20" y="791.38" width="32.00" height="141.95" fill="#FEDF94" stroke="#000" stroke-width="3.2"/><rect x="1647.20" y="779.11" width="32.00" height="12.27" fill="#CCFFFF" stroke="#000" stroke-width="3.2"/>
<rect x="1682.80" y="933.33" width="32.00" height="119.17" fill="#CC0000" stroke="#000" stroke-width="3.2"/><rect x="1682.80" y="808.90" width="32.00" height="124.43" fill="#FEDF94" stroke="#000" stroke-width="3.2"/><rect x="1682.80" y="779.11" width="32.00" height="29.79" fill="#CCFFFF" stroke="#000" stroke-width="3.2"/>
<rect x="1718.40" y="879.00" width="32.00" height="173.50" fill="#CC0000" stroke="#000" stroke-width="3.2"/><rect x="1718.40" y="780.86" width="32.00" height="98.14" fill="#FEDF94" stroke="#000" stroke-width="3.2"/><rect x="1718.40" y="779.11" width="32.00" height="1.75" fill="#CCFFFF" stroke="#000" stroke-width="3.2"/>
<rect x="1753.90" y="849.21" width="32.00" height="203.29" fill="#CC0000" stroke="#000" stroke-width="3.2"/><rect x="1753.90" y="780.86" width="32.00" height="68.35" fill="#FEDF94" stroke="#000" stroke-width="3.2"/>
</g>
<text class="s" x="1627.3" y="1062.30" font-size="24.5" fill="#4D4D4D" text-anchor="end">0</text>
<text class="s" x="1627.3" y="1027.25" font-size="24.5" fill="#4D4D4D" text-anchor="end">20</text>
<text class="s" x="1627.3" y="992.20" font-size="24.5" fill="#4D4D4D" text-anchor="end">40</text>
<text class="s" x="1627.3" y="957.15" font-size="24.5" fill="#4D4D4D" text-anchor="end">60</text>
<text class="s" x="1627.3" y="922.10" font-size="24.5" fill="#4D4D4D" text-anchor="end">80</text>
<text class="s" x="1627.3" y="887.05" font-size="24.5" fill="#4D4D4D" text-anchor="end">100</text>
<text class="s" x="1627.3" y="852.00" font-size="24.5" fill="#4D4D4D" text-anchor="end">120</text>
<text class="s" x="1627.3" y="816.95" font-size="24.5" fill="#4D4D4D" text-anchor="end">140</text>
<text class="s" x="1627.3" y="781.90" font-size="24.5" fill="#4D4D4D" text-anchor="end">160</text>
<text class="s" x="1663.2" y="1098.4" font-size="24" fill="#4D4D4D" text-anchor="middle">A</text>
<text class="s" x="1698.8" y="1098.4" font-size="24" fill="#4D4D4D" text-anchor="middle">B</text>
<text class="s" x="1734.4" y="1098.4" font-size="24" fill="#4D4D4D" text-anchor="middle">G</text>
<text class="s" x="1769.9" y="1098.4" font-size="24" fill="#4D4D4D" text-anchor="middle">I</text>
<text class="s" font-size="31.2" transform="translate(1571.6,1035.3) rotate(-90)">Number of hosts</text>
</svg>
</body></html>
